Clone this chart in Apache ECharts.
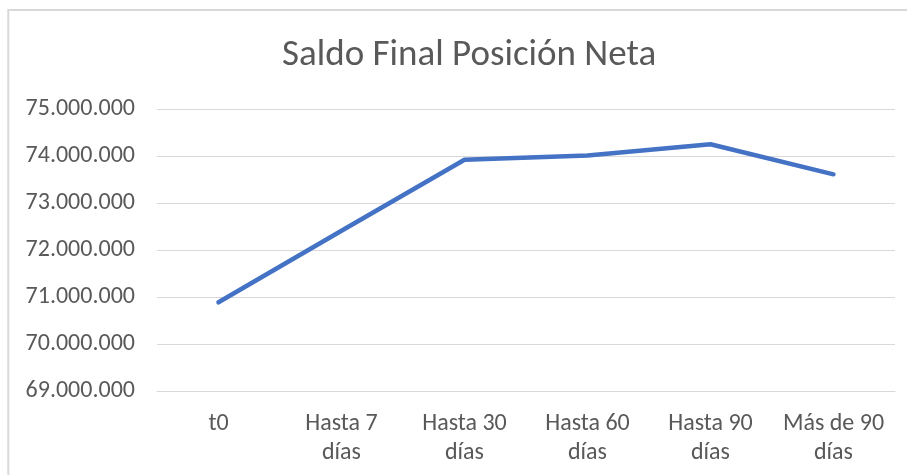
<!DOCTYPE html>
<html><head><meta charset="utf-8">
<script src="https://cdn.jsdelivr.net/npm/echarts@6/dist/echarts.min.js"></script>
<style>html,body{margin:0;padding:0;background:#fff}#c{width:907px;height:475px}</style>
</head><body><div id="c"></div>
<script>
const categories = ["t0", "Hasta 7 días", "Hasta 30 días", "Hasta 60 días", "Hasta 90 días", "Más de 90 días"];
const saldo = [70887000, 72410000, 73920000, 74010000, 74250000, 73610000];
const yMin = 69000000, yMax = 75000000, yStep = 1000000;

const chart = echarts.init(document.getElementById('c'), null, {renderer: 'canvas'});
const font = 'Carlito, Lato, sans-serif';
chart.setOption({
  animation: false,
  backgroundColor: '#fff',
  title: {
    text: 'Saldo Final Posición Neta',
    left: 277, top: 32,
    textStyle: {fontFamily: font, fontSize: 37, fontWeight: 'normal', color: '#595959'}
  },
  graphic: [{type: 'rect', silent: true, shape: {x: 8.3, y: 10, width: 920, height: 500}, style: {fill: 'none', stroke: '#d9d9d9', lineWidth: 2}}],
  grid: {left: 157, right: 12, top: 109, bottom: 84},
  xAxis: {
    type: 'category', data: categories, boundaryGap: true,
    axisLine: {lineStyle: {color: '#d9d9d9', width: 1}},
    axisTick: {show: false},
    axisLabel: {
      fontFamily: font, fontSize: 24, color: '#595959', margin: 18, lineHeight: 29, interval: 0,
      formatter: v => { const i = v.lastIndexOf(' '); return i > 0 ? v.slice(0, i) + '\n' + v.slice(i + 1) : v; }
    }
  },
  yAxis: {
    type: 'value', min: yMin, max: yMax, interval: yStep,
    axisLine: {show: false}, axisTick: {show: false},
    splitLine: {lineStyle: {color: '#d9d9d9', width: 1}},
    axisLabel: {
      fontFamily: font, fontSize: 24, color: '#595959', margin: 22,
      formatter: v => String(Math.round(v)).replace(/\B(?=(\d{3})+(?!\d))/g, '.')
    }
  },
  series: [{
    type: 'line', data: saldo, symbol: 'none',
    lineStyle: {color: '#4472C4', width: 4.5, cap: 'round', join: 'round'}
  }]
});
</script></body></html>
